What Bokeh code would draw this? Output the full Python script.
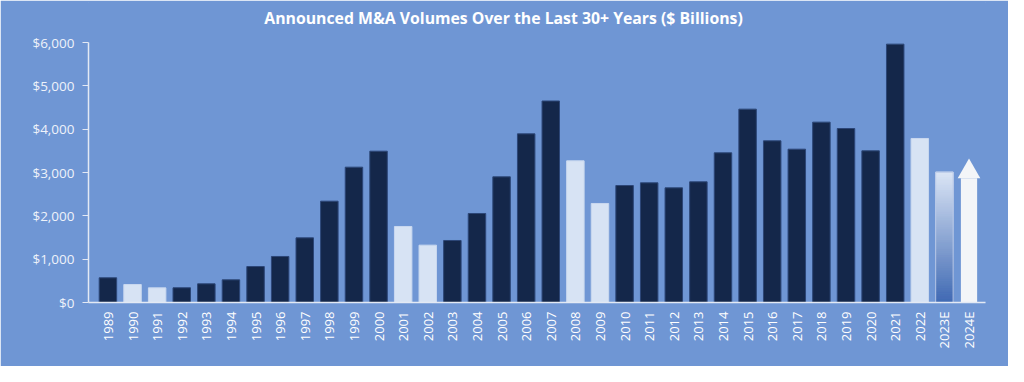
import math
from bokeh.plotting import figure
from bokeh.models import Range1d, FixedTicker, NumeralTickFormatter, ColumnDataSource, Label
from bokeh.embed import file_html
from bokeh.resources import INLINE

# ---------------- data ----------------
years = ["1989", "1990", "1991", "1992", "1993", "1994", "1995", "1996", "1997", "1998",
         "1999", "2000", "2001", "2002", "2003", "2004", "2005", "2006", "2007", "2008",
         "2009", "2010", "2011", "2012", "2013", "2014", "2015", "2016", "2017", "2018",
         "2019", "2020", "2021", "2022", "2023E", "2024E"]
volumes = [570, 415, 338, 340, 431, 523, 830, 1062, 1492, 2338,
           3123, 3492, 1754, 1323, 1431, 2054, 2900, 3892, 4650, 3269,
           2285, 2700, 2762, 2646, 2785, 3454, 4462, 3731, 3538, 4162,
           4015, 3500, 5962, 3785, 3008, 3323]
bar_kind = ["dark", "light", "light", "dark", "dark", "dark", "dark", "dark", "dark", "dark",
            "dark", "dark", "light", "light", "dark", "dark", "dark", "dark", "dark", "light",
            "light", "dark", "dark", "dark", "dark", "dark", "dark", "dark", "dark", "dark",
            "dark", "dark", "dark", "light", "gradient", "arrow"]
arrow_shaft_top = 2870  # 2024E arrow shaft top ($B); volumes holds the arrow tip
y_ticks = [0, 1000, 2000, 3000, 4000, 5000, 6000]
title_text = "Announced M&A Volumes Over the Last 30+ Years ($ Billions)"

# ---------------- style ----------------
BG = "#6f96d4"
DARK = "#14274a"
LIGHT = "#d7e3f4"
AXIS = "#e3e9f4"
FONT = "Open Sans"
BAR_W = 0.71

Y_MAX = y_ticks[-1]
AXIS_PX = 260        # pixel height of the 0..6000 axis
TOP_PAD_PX = 40      # room above the axis (inside the frame) for the title
y_end = Y_MAX * (AXIS_PX + TOP_PAD_PX) / AXIS_PX

xs = list(range(len(years)))
x_start, x_end = -0.79, len(years) - 1 + 0.67

p = figure(width=1008, height=366, output_backend="svg", toolbar_location=None,
           x_range=Range1d(x_start, x_end), y_range=Range1d(0, y_end),
           min_border_left=88, min_border_right=23, min_border_top=42 - TOP_PAD_PX,
           min_border_bottom=64, frame_width=897, frame_height=AXIS_PX + TOP_PAD_PX)
p.background_fill_color = BG
p.border_fill_color = BG
p.outline_line_color = BG
p.outline_line_width = 1
p.grid.visible = False

# title, centred on the page
p.add_layout(Label(x=x_start + (503 - 88) / 897 * (x_end - x_start), y=Y_MAX, y_offset=24.5,
                   text=title_text, text_color="white", text_font=FONT,
                   text_font_size="15.8px", text_font_style="bold",
                   text_align="center", text_baseline="middle"))

# dark & light bars
for kind, color, edge in (("dark", DARK, "#2c4677"), ("light", LIGHT, "#c9d8ef")):
    idx = [i for i, k in enumerate(bar_kind) if k == kind]
    src = ColumnDataSource(dict(x=[xs[i] for i in idx], top=[volumes[i] for i in idx]))
    p.vbar(x="x", top="top", bottom=0, width=BAR_W, source=src,
           fill_color=color, line_color=edge, line_width=1)

# gradient bar (2023E)
def lerp(c1, c2, t):
    a = [int(c1[i:i + 2], 16) for i in (1, 3, 5)]
    b = [int(c2[i:i + 2], 16) for i in (1, 3, 5)]
    return "#" + "".join(f"{round(a[k] + (b[k] - a[k]) * t):02x}" for k in range(3))

gi = bar_kind.index("gradient")
gv = volumes[gi]
n = 60
g_bottom = [gv * j / n for j in range(n)]
g_top = [gv * (j + 1) / n for j in range(n)]
g_col = [lerp("#3f69b3", "#dbe5f5", (j + 0.5) / n) for j in range(n)]
p.vbar(x=xs[gi], top=g_top, bottom=g_bottom, width=BAR_W, fill_color=g_col,
       line_color=g_col, line_width=1)
p.vbar(x=xs[gi], top=gv, bottom=0, width=BAR_W, fill_color=None, line_color="#b9c9e8", line_width=1)

# arrow (2024E)
ai = bar_kind.index("arrow")
SHAFT_W = 0.66
HEAD_W = 0.92
p.vbar(x=xs[ai], top=arrow_shaft_top, bottom=0, width=SHAFT_W, fill_color="#f3f5f8", line_color=None)
p.patch([xs[ai] - HEAD_W / 2, xs[ai], xs[ai] + HEAD_W / 2],
        [arrow_shaft_top, volumes[ai], arrow_shaft_top], fill_color="#f3f5f8", line_color=None)

# axes
xa = p.xaxis[0]
xa.ticker = FixedTicker(ticks=xs)
xa.major_label_overrides = {i: y for i, y in enumerate(years)}
xa.major_label_orientation = math.pi / 2
xa.major_tick_line_color = None
xa.major_tick_in = 0
xa.major_tick_out = 0
xa.minor_tick_line_color = None
xa.axis_line_color = AXIS
xa.axis_line_width = 1.5
xa.major_label_text_color = "white"
xa.major_label_text_font = FONT
xa.major_label_text_font_size = "13px"
xa.major_label_standoff = 9

ya = p.yaxis[0]
ya.ticker = FixedTicker(ticks=y_ticks)
ya.bounds = (0, Y_MAX)
ya.formatter = NumeralTickFormatter(format="$0,0")
ya.minor_tick_line_color = None
ya.major_tick_in = 0
ya.major_tick_out = 6
ya.major_tick_line_color = AXIS
ya.axis_line_color = AXIS
ya.axis_line_width = 1.5
ya.major_label_text_color = "#eef2fa"
ya.major_label_text_font = FONT
ya.major_label_text_font_size = "13.5px"
ya.major_label_standoff = 8

open("out.html", "w").write(file_html(p, INLINE))
